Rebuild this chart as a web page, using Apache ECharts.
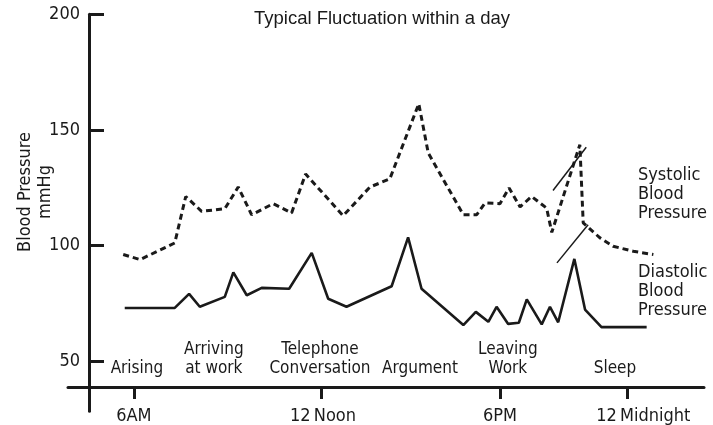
<!DOCTYPE html>
<html>
<head>
<meta charset="utf-8">
<script src="https://cdn.jsdelivr.net/npm/echarts@6/dist/echarts.min.js"></script>
<style>
  html, body { margin: 0; padding: 0; background: #fff; }
  #chart { width: 713px; height: 425px; }
</style>
</head>
<body>
<div id="chart"></div>
<script>
// hours of the day as drawn on the chart, mmHg values
const systolicHours = [5.65, 6.2, 7.34, 7.7, 8.22, 8.98, 9.42, 9.86, 10.57, 11.17, 11.63, 12.86, 13.74, 14.39, 15.34, 15.65,
  16.8, 17.24, 17.51, 18.0, 18.3, 18.66, 19.04, 19.53, 19.7, 20.62, 20.73, 21.28, 21.71, 22.37, 23.03]
const systolicValues = [96.1, 93.9, 101.1, 121.2, 114.8, 115.9, 125.3, 113.3, 118.1, 114.1, 130.9, 112.9, 125.3, 128.8, 161.3, 140.0,
  113.3, 113.3, 118.4, 118.1, 124.9, 116.7, 121.2, 116.2, 105.7, 143.6, 109.8, 103.3, 99.7, 97.5, 96.1]

const diastolicHours = [5.7, 7.34, 7.81, 8.16, 8.98, 9.26, 9.7, 10.19, 11.09, 11.83, 12.37, 12.97, 14.45, 14.99, 15.43,
  16.8, 17.21, 17.62, 17.89, 18.27, 18.62, 18.88, 19.37, 19.64, 19.91, 20.44, 20.79, 21.33, 22.81]
const diastolicValues = [73.0, 73.0, 79.1, 73.5, 77.8, 88.4, 78.5, 81.7, 81.3, 96.8, 77.0, 73.5, 82.4, 103.5, 81.3,
  65.6, 71.3, 67.0, 73.5, 66.1, 66.6, 76.7, 65.9, 73.5, 66.8, 94.2, 72.3, 64.7, 64.7]

// leader lines from the curves to the series notes
const systolicPointer = [[19.74, 123.8], [20.83, 142.5]]
const diastolicPointer = [[19.87, 92.5], [20.89, 109.0]]

const eventNames = ['Arising', 'Arriving\nat work', 'Telephone\nConversation', 'Argument', 'Leaving\nWork', 'Sleep']
const eventHours = [6.1, 8.62, 12.1, 15.38, 18.26, 21.77]
const eventLevel = 42.5

const tickHours = [6, 12.15, 18, 22.19]
const labelHours = [6, 12.2, 18, 22.7]
const tickLabels = ['6AM', '12\u2009Noon', '6PM', '12\u2009Midnight']
const yTicks = [50, 100, 150, 200]

const narrow = "'Liberation Sans Narrow', 'DejaVu Sans Condensed', sans-serif"
const ink = '#1a1a1a'

const zip = (xs, ys) => xs.map((x, i) => [x, ys[i]])

const chart = echarts.init(document.getElementById('chart'))
chart.setOption({
  animation: false,
  title: {
    text: 'Typical Fluctuation within a day',
    left: 382, textAlign: 'center', top: 9, padding: 0,
    textStyle: { fontFamily: "'Liberation Sans', Arial, sans-serif", fontSize: 18.5, fontWeight: 'normal', color: ink }
  },
  grid: { left: 68, right: 9, top: 14.3, bottom: 13, containLabel: false },
  xAxis: {
    type: 'value', min: 3.84, max: 24.69, offset: -24.3,
    axisLine: { onZero: false, lineStyle: { color: ink, width: 3 } },
    axisTick: { customValues: tickHours, length: 12, lineStyle: { color: ink, width: 3 } },
    axisLabel: {
      customValues: labelHours, margin: 20, color: ink, fontFamily: narrow, fontSize: 18,
      formatter: v => tickLabels[labelHours.indexOf(v)] || ''
    },
    splitLine: { show: false }
  },
  yAxis: {
    type: 'value', min: 28.3, max: 200, offset: -21,
    axisLine: { show: true, onZero: false, lineStyle: { color: ink, width: 3 } },
    axisTick: { show: true, inside: true, customValues: yTicks, length: 15, lineStyle: { color: ink, width: 3 } },
    axisLabel: { customValues: yTicks, margin: 9, color: ink, fontFamily: narrow, fontSize: 18 },
    splitLine: { show: false }
  },
  graphic: [
    {
      type: 'text', x: 35, y: 192, rotation: Math.PI / 2,
      style: { text: 'Blood Pressure\nmmHg', align: 'center', verticalAlign: 'middle', lineHeight: 20,
        font: '18px ' + narrow, fill: ink }
    },
    {
      type: 'text', x: 638, y: 165.5,
      style: { text: 'Systolic\nBlood\nPressure', align: 'left', verticalAlign: 'top', lineHeight: 19,
        font: '18px ' + narrow, fill: ink }
    },
    {
      type: 'text', x: 638, y: 262.5,
      style: { text: 'Diastolic\nBlood\nPressure', align: 'left', verticalAlign: 'top', lineHeight: 19,
        font: '18px ' + narrow, fill: ink }
    }
  ],
  series: [
    {
      name: 'Systolic', type: 'line', symbol: 'none', silent: true,
      data: zip(systolicHours, systolicValues),
      lineStyle: { color: ink, width: 3, type: [6, 4] }
    },
    {
      name: 'Diastolic', type: 'line', symbol: 'none', silent: true,
      data: zip(diastolicHours, diastolicValues),
      lineStyle: { color: ink, width: 2.6 }
    },
    {
      type: 'line', symbol: 'none', silent: true, data: systolicPointer,
      lineStyle: { color: ink, width: 1.5 }
    },
    {
      type: 'line', symbol: 'none', silent: true, data: diastolicPointer,
      lineStyle: { color: ink, width: 1.5 }
    },
    {
      type: 'scatter', symbolSize: 0, silent: true,
      itemStyle: { opacity: 1 },
      data: eventNames.map((n, i) => ({ name: n, value: [eventHours[i], eventLevel] })),
      label: { show: true, position: 'top', distance: 0, formatter: p => p.name, opacity: 1,
        fontFamily: narrow, fontSize: 17, lineHeight: 19.5, color: ink, align: 'center' }
    }
  ]
})
</script>
</body>
</html>
